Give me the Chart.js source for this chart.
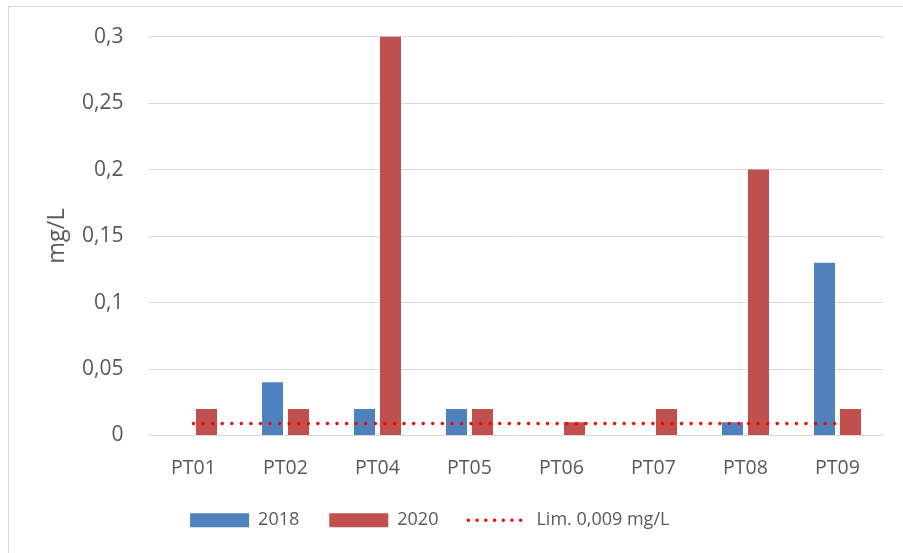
<!DOCTYPE html>
<html>
<head>
<meta charset="utf-8">
<script src="https://cdn.jsdelivr.net/npm/chart.js@4/dist/chart.umd.min.js"></script>
<style>
  html, body { margin: 0; padding: 0; background: #ffffff; }
  #wrap { position: relative; width: 903px; height: 553px; overflow: hidden; }
  #frame { position: absolute; left: 8px; top: 6px; width: 1000px; height: 1000px;
           border-top: 1px solid #d9d9d9; border-left: 1px solid #d9d9d9; }
  #chart { position: absolute; left: 0; top: 0; }
</style>
</head>
<body>
<div id="wrap">
  <div id="frame"></div>
  <canvas id="chart" width="903" height="553"></canvas>
</div>
<script>
// Sampling points and measured concentrations (mg/L)
const categories = ['PT01', 'PT02', 'PT04', 'PT05', 'PT06', 'PT07', 'PT08', 'PT09'];
const values2018 = [null, 0.04, 0.02, 0.02, null, null, 0.01, 0.13];
const values2020 = [0.02, 0.02, 0.3, 0.02, 0.01, 0.02, 0.2, 0.02];
const limitValues = [0.009, 0.009, 0.009, 0.009, 0.009, 0.009, 0.009, 0.009];
const yTickLabels = ['0', '0,05', '0,1', '0,15', '0,2', '0,25', '0,3'];
const seriesNames = ['2018', '2020', 'Lim. 0,009 mg/L'];
const axisTitle = 'mg/L';

const FONT = "'Open Sans', sans-serif";
const TEXT = '#595959';
const GRID = '#d9d9d9';
const BLUE = '#4f81bd';
const RED = '#c0504d';
const LIMIT = '#ff0000';

// Nudges the centred legend row to the left
const legendShift = {
  id: 'legendShift',
  afterLayout(chart) {
    const lg = chart.legend;
    if (lg) { lg.left -= 12; lg.right -= 12; }
  }
};

new Chart(document.getElementById('chart'), {
  type: 'bar',
  data: {
    labels: categories,
    datasets: [
      { label: seriesNames[0], data: values2018, backgroundColor: BLUE, borderWidth: 0,
        categoryPercentage: 0.565, barPercentage: 0.81, order: 1 },
      { label: seriesNames[1], data: values2020, backgroundColor: RED, borderWidth: 0,
        categoryPercentage: 0.565, barPercentage: 0.81, order: 1 },
      { type: 'line', label: seriesNames[2], data: limitValues, borderColor: LIMIT,
        backgroundColor: LIMIT, borderWidth: 3.5, borderDash: [0, 9.57], borderCapStyle: 'round',
        pointRadius: 0, fill: false, order: 0 }
    ]
  },
  plugins: [legendShift],
  options: {
    responsive: false,
    animation: false,
    events: [],
    layout: { padding: { top: 33.4, right: 19.5, bottom: 13.75, left: 0 } },
    scales: {
      x: {
        offset: true,
        grid: { display: false, drawTicks: false },
        border: { display: false },
        ticks: { color: TEXT, padding: 21.5, font: { family: FONT, size: 19.5 } },
        afterFit(scale) { scale.height = 45.75; }
      },
      y: {
        min: 0, max: 0.3,
        ticks: { stepSize: 0.05, color: TEXT, padding: 24, font: { family: FONT, size: 21 },
                 callback: (v, i) => yTickLabels[i] },
        grid: { color: GRID, lineWidth: 1, drawTicks: false },
        border: { display: false },
        title: { display: true, text: axisTitle, color: TEXT, padding: { top: 43, bottom: 0 },
                 font: { family: FONT, size: 23.5 } },
        afterFit(scale) { scale.width = 147.5; }
      }
    },
    plugins: {
      tooltip: { enabled: false },
      legend: {
        position: 'bottom',
        labels: {
          usePointStyle: true,
          pointStyleWidth: 59,
          boxHeight: 14,
          padding: 30,
          color: TEXT,
          font: { family: FONT, size: 18 },
          sort: (a, b) => a.datasetIndex - b.datasetIndex,
          generateLabels(chart) {
            const items = Chart.defaults.plugins.legend.labels.generateLabels(chart);
            items.forEach((it) => {
              const ds = chart.data.datasets[it.datasetIndex];
              if (ds.type === 'line') {
                it.pointStyle = 'line';
                it.strokeStyle = LIMIT;
                it.fillStyle = 'rgba(0,0,0,0)';
                it.lineWidth = 3.5;
                it.lineDash = [0, 8.7];
                it.lineCap = 'round';
              } else {
                it.pointStyle = 'rect';
                it.fillStyle = ds.backgroundColor;
                it.lineWidth = 0;
              }
            });
            return items;
          }
        }
      }
    }
  }
});
</script>
</body>
</html>
